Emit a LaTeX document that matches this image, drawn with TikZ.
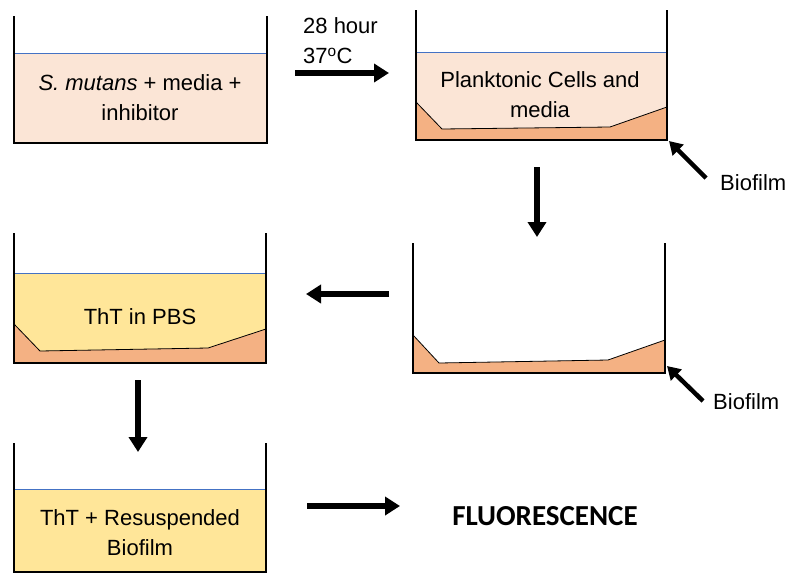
\documentclass[tikz,border=0pt]{standalone}
\usepackage{fontspec}
\setmainfont{Liberation Sans}
\newfontfamily\calib{Carlito}
\usetikzlibrary{arrows.meta}
\definecolor{pinkliq}{HTML}{FBE5D6}
\definecolor{yelliq}{HTML}{FFE699}
\definecolor{bio}{HTML}{F4B183}
\definecolor{surf}{HTML}{4472C4}
\begin{document}
\begin{tikzpicture}[x=1pt,y=-1pt,
  wall/.style={line width=2.8pt, line join=miter},
  surface/.style={draw=surf, line width=0.8pt},
  filmedge/.style={draw=black, line width=0.8pt},
  lbl/.style={font=\fontsize{22}{30}\selectfont, align=center, inner sep=0pt},
  bigarrow/.style={line width=5.5pt, -{Triangle[length=15pt,width=18pt]}},
  smallarrow/.style={line width=4.5pt, -{Triangle[length=13pt,width=15pt]}}]
\useasboundingbox (0,0) rectangle (800,584);

% ---------- Well 1 ----------
\fill[pinkliq] (14,53) rectangle (267,143);
\draw[surface] (14,53) -- (267,53);
\draw[wall] (14,16) -- (14,143) -- (267,143) -- (267,16);
\node[lbl] (t1) at (140,98) {\textit{S. mutans} + media +\\inhibitor};

% ---------- Well 2 ----------
\fill[pinkliq] (416,52) rectangle (667,140);
\draw[surface] (416,52) -- (667,52);
\fill[bio] (416,102) -- (442,129) -- (610,127) -- (667,107) -- (667,140) -- (416,140) -- cycle;
\draw[filmedge] (416,102) -- (442,129) -- (610,127) -- (667,107);
\draw[wall] (416,10) -- (416,140) -- (667,140) -- (667,10);
\node[lbl] (t2) at (540,95) {Planktonic Cells and\\media};

% ---------- Well 3 ----------
\fill[bio] (413,335) -- (439,363) -- (608,360) -- (665,340) -- (665,373) -- (413,373) -- cycle;
\draw[filmedge] (413,335) -- (439,363) -- (608,360) -- (665,340);
\draw[wall] (413,243) -- (413,373) -- (665,373) -- (665,243);

% ---------- Well 4 ----------
\fill[yelliq] (14,273) rectangle (266,363);
\draw[surface] (14,273) -- (266,273);
\fill[bio] (14,324) -- (40,351) -- (208,348) -- (266,329) -- (266,363) -- (14,363) -- cycle;
\draw[filmedge] (14,324) -- (40,351) -- (208,348) -- (266,329);
\draw[wall] (14,233) -- (14,363) -- (266,363) -- (266,233);
\node[lbl] (t4) at (140,317) {ThT in PBS};

% ---------- Well 5 ----------
\fill[yelliq] (14,489) rectangle (266,572);
\draw[surface] (14,489) -- (266,489);
\draw[wall] (14,443) -- (14,572) -- (266,572) -- (266,443);
\node[lbl] (t5) at (140,533) {ThT + Resuspended\\Biofilm};

% ---------- labels ----------
\node[lbl, align=left, anchor=west] (cond) at (303,41) {28 hour\\37\textsuperscript{o}C};
\node[lbl, anchor=west] (bf1) at (720,183) {Biofilm};
\node[lbl, anchor=west] (bf2) at (713,402) {Biofilm};
\node[font=\calib\bfseries\fontsize{29}{34}\selectfont, inner sep=0pt] (fl) at (545,516) {FLUORESCENCE};

% ---------- arrow end points ----------
\coordinate (a1s) at (295,73);  \coordinate (a1e) at (389,73);
\coordinate (a2s) at (537,167); \coordinate (a2e) at (537,237);
\coordinate (a3s) at (389,294); \coordinate (a3e) at (306,294);
\coordinate (a4s) at (138,380); \coordinate (a4e) at (138,452);
\coordinate (a5s) at (307,506); \coordinate (a5e) at (400,506);
\coordinate (b1s) at (706,178); \coordinate (b1e) at (669,141);
\coordinate (b2s) at (703,401); \coordinate (b2e) at (667,366);

\draw[bigarrow] (a1s) -- (a1e);
\draw[bigarrow] (a2s) -- (a2e);
\draw[bigarrow] (a3s) -- (a3e);
\draw[bigarrow] (a4s) -- (a4e);
\draw[bigarrow] (a5s) -- (a5e);
\draw[smallarrow] (b1s) -- (b1e);
\draw[smallarrow] (b2s) -- (b2e);
\end{tikzpicture}
\end{document}
